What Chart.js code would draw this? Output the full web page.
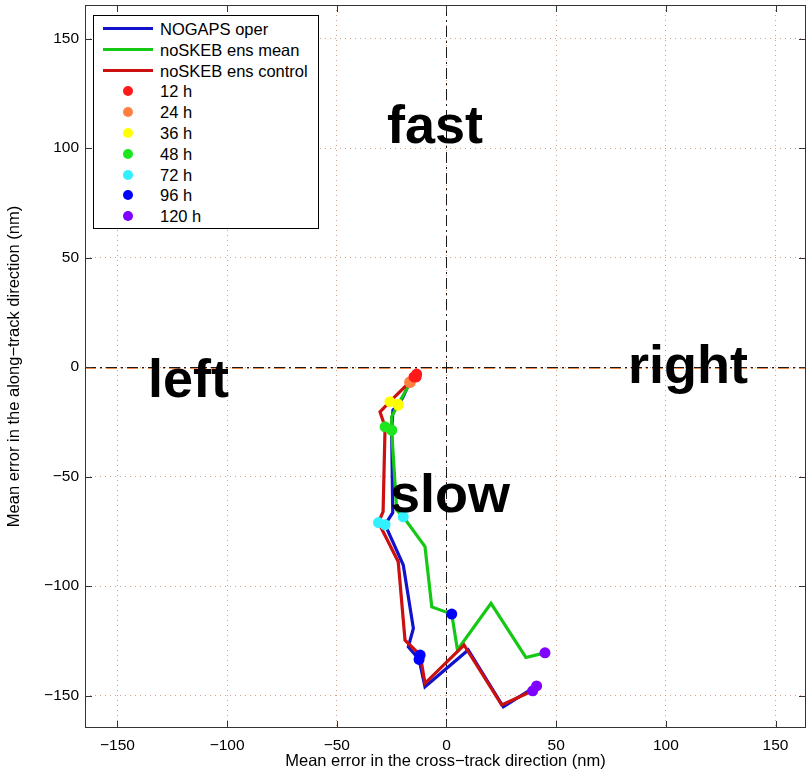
<!DOCTYPE html>
<html>
<head>
<meta charset="utf-8">
<title>Mean track error</title>
<script src="https://cdn.jsdelivr.net/npm/chart.js@4.4.0/dist/chart.umd.min.js"></script>
<style>
  html, body { margin: 0; padding: 0; background: #fff; }
  #wrap { position: relative; width: 807px; height: 772px; }
  #chart { position: absolute; left: 0; top: 0; }
  #legend {
    position: absolute; left: 93px; top: 15px; width: 226px; height: 214px;
    box-sizing: border-box; border: 1px solid #000; background: #fff;
    font-family: "Liberation Sans", Arial, sans-serif; font-size: 16.5px; color: #000;
  }
  .row { position: absolute; left: 0; width: 100%; height: 20px; }
  .sw-line { position: absolute; left: 9px; top: 8px; width: 50px; height: 3px; }
  .sw-dot { position: absolute; left: 29px; top: 5px; width: 10px; height: 10px; border-radius: 50%; }
  .lbl { position: absolute; left: 66px; top: 0; line-height: 20px; white-space: nowrap; }
</style>
</head>
<body>
<div id="wrap">
  <canvas id="chart" width="807" height="772"></canvas>
  <div id="legend"></div>
</div>
<script>
// ---------- data (nm) ----------
// track lines, one vertex every few hours of lead time
const operX = [-14.8, -16.8, -19.8, -22.0, -24.4, -25.0, -24.5, -28.0, -19.7, -15.1, -17.4, -12.5, -9.8, 9.9, 25.9, 41.1];
const operY = [-4.5, -7.0, -13.7, -17.4, -19.6, -28.8, -66.5, -72.0, -90.4, -119.3, -127.7, -133.5, -146.0, -129.2, -155.1, -145.6];

const meanX = [-13.8, -16.5, -22.0, -25.0, -25.0, -22.7, -19.7, -9.8, -6.7, 2.4, 5.0, 20.3, 36.2, 44.9];
const meanY = [-4.5, -7.0, -17.0, -22.7, -28.8, -65.3, -68.4, -82.0, -109.5, -112.8, -129.2, -107.9, -132.6, -130.5];

const ctrlX = [-13.6, -16.6, -25.8, -30.3, -28.0, -28.9, -31.0, -22.0, -18.9, -12.0, -9.8, 8.0, 25.2, 39.3];
const ctrlY = [-3.2, -6.7, -15.8, -20.5, -27.3, -66.0, -71.0, -88.9, -124.7, -131.5, -144.4, -126.9, -154.3, -147.8];

// markers at the lead times below, per series
const leadLabels = ['12 h', '24 h', '36 h', '48 h', '72 h', '96 h', '120 h'];
const leadColors = ['#ff1a1a', '#ff8040', '#ffff00', '#1ee61e', '#33f0ff', '#0000ff', '#8000ff'];

const operMarkX = [-14.8, -16.8, -22.0, -25.0, -28.0, -12.5, 41.1];
const operMarkY = [-4.5, -7.0, -17.4, -28.8, -72.0, -133.5, -145.6];
const meanMarkX = [-13.8, -16.5, -22.0, -25.0, -19.7, 2.4, 44.9];
const meanMarkY = [-4.5, -7.0, -17.0, -28.8, -68.4, -112.8, -130.5];
const ctrlMarkX = [-13.6, -16.6, -25.8, -28.0, -31.0, -12.0, 39.3];
const ctrlMarkY = [-3.2, -6.7, -15.8, -27.3, -71.0, -131.5, -147.8];

const seriesNames = ['NOGAPS oper', 'noSKEB ens mean', 'noSKEB ens control'];
const seriesColors = ['#1212cc', '#14c814', '#cc1010'];

const xTicks = [-150, -100, -50, 0, 50, 100, 150];
const yTicks = [-150, -100, -50, 0, 50, 100, 150];

// quadrant words, anchored at (left, baseline) in data units
const wordTexts = ['fast', 'left', 'right', 'slow'];
const wordX = [-27.1, -136.1, 82.7, -25.8];
const wordY = [102.3, -13.7, -7.3, -66.2];

// ---------- helpers ----------
const FONT = '"Liberation Sans", Arial, sans-serif';
const toPts = (xs, ys) => xs.map((v, i) => ({ x: v, y: ys[i] }));
const fmt = v => String(v).replace('-', '\u2212');

function lineSet(name, color, xs, ys, order) {
  return {
    label: name, data: toPts(xs, ys), showLine: true, borderColor: color,
    backgroundColor: color, borderWidth: 3.2, pointRadius: 0, tension: 0, order: order
  };
}

const datasets = leadLabels.map((lab, i) => ({
  label: lab,
  data: [
    { x: operMarkX[i], y: operMarkY[i] },
    { x: meanMarkX[i], y: meanMarkY[i] },
    { x: ctrlMarkX[i], y: ctrlMarkY[i] }
  ],
  showLine: false, pointRadius: 5.5, pointBorderWidth: 0,
  backgroundColor: leadColors[i], borderColor: leadColors[i], order: 0
}));
datasets.push(lineSet(seriesNames[2], seriesColors[2], ctrlX, ctrlY, 1));
datasets.push(lineSet(seriesNames[1], seriesColors[1], meanX, meanY, 2));
datasets.push(lineSet(seriesNames[0], seriesColors[0], operX, operY, 3));

// zero lines, frame, inward ticks and the quadrant words
const framePlugin = {
  id: 'frame',
  beforeDatasetsDraw(chart) {
    const { ctx, chartArea: a, scales: { x, y } } = chart;
    const x0 = Math.round(x.getPixelForValue(0)) + 0.5;
    const y0 = Math.round(y.getPixelForValue(0)) + 0.5;
    ctx.save();
    ctx.lineWidth = 1;
    ctx.setLineDash([11, 4, 2, 4]);
    ctx.strokeStyle = '#f0894a';
    ctx.beginPath(); ctx.moveTo(a.left, y0 + 1); ctx.lineTo(a.right, y0 + 1); ctx.stroke();
    ctx.strokeStyle = '#1a1a1a';
    ctx.beginPath(); ctx.moveTo(a.left, y0); ctx.lineTo(a.right, y0); ctx.stroke();
    ctx.beginPath(); ctx.moveTo(x0, a.top); ctx.lineTo(x0, a.bottom); ctx.stroke();
    ctx.restore();
  },
  afterDatasetsDraw(chart) {
    const { ctx, scales: { x, y } } = chart;
    ctx.save();
    ctx.fillStyle = '#000';
    ctx.font = 'bold 54px ' + FONT;
    ctx.textAlign = 'left';
    ctx.textBaseline = 'alphabetic';
    wordTexts.forEach((t, i) => {
      ctx.fillText(t, x.getPixelForValue(wordX[i]), y.getPixelForValue(wordY[i]));
    });
    ctx.restore();
  },
  afterDraw(chart) {
    const { ctx, chartArea: a, scales: { x, y } } = chart;
    ctx.save();
    ctx.lineWidth = 1;
    ctx.strokeStyle = '#333';
    ctx.strokeRect(a.left + 0.5, a.top + 0.5, a.right - a.left - 1, a.bottom - a.top - 1);
    ctx.beginPath();
    xTicks.forEach(v => {
      const px = Math.round(x.getPixelForValue(v)) + 0.5;
      ctx.moveTo(px, a.bottom); ctx.lineTo(px, a.bottom - 7);
      ctx.moveTo(px, a.top); ctx.lineTo(px, a.top + 7);
    });
    yTicks.forEach(v => {
      const py = Math.round(y.getPixelForValue(v)) + 0.5;
      ctx.moveTo(a.left, py); ctx.lineTo(a.left + 7, py);
      ctx.moveTo(a.right, py); ctx.lineTo(a.right - 7, py);
    });
    ctx.stroke();
    ctx.restore();
  }
};

const gridOpts = {
  color: 'rgba(205,135,100,0.8)', lineWidth: 1, drawTicks: false
};

function noPad(s) {
  s.paddingTop = 0; s.paddingBottom = 0; s.paddingLeft = 0; s.paddingRight = 0;
}

new Chart(document.getElementById('chart'), {
  type: 'scatter',
  data: { datasets },
  options: {
    responsive: false,
    animation: false,
    layout: { autoPadding: false, padding: { top: 5, right: 1, left: 0, bottom: 0 } },
    plugins: { legend: { display: false }, tooltip: { enabled: false } },
    scales: {
      x: {
        type: 'linear', min: -164.8, max: 163.9,
        afterBuildTicks: s => { s.ticks = xTicks.map(v => ({ value: v })); },
        afterFit: s => { s.height = 44; noPad(s); },
        grid: gridOpts,
        border: { display: false, dash: [1, 4] },
        ticks: { callback: fmt, color: '#000', padding: 8, maxRotation: 0, font: { size: 15.5, family: FONT } },
        title: { display: true, text: 'Mean error in the cross\u2212track direction (nm)', color: '#000',
                 padding: { top: 1, bottom: 1 }, font: { size: 16.5, family: FONT } }
      },
      y: {
        type: 'linear', min: -164.8, max: 165.3,
        afterBuildTicks: s => { s.ticks = yTicks.map(v => ({ value: v })); },
        afterFit: s => { s.width = 85; noPad(s); },
        grid: gridOpts,
        border: { display: false, dash: [1, 4] },
        ticks: { callback: fmt, color: '#000', padding: 6, font: { size: 15.5, family: FONT } },
        title: { display: true, text: 'Mean error in the along\u2212track direction (nm)', color: '#000',
                 padding: { top: 5, bottom: 2 }, font: { size: 16.5, family: FONT } }
      }
    }
  },
  plugins: [framePlugin]
});

// ---------- legend box ----------
const legend = document.getElementById('legend');
const rowTop = i => Math.round(3 + i * 20.8);
seriesNames.forEach((name, i) => {
  const r = document.createElement('div');
  r.className = 'row';
  r.style.top = rowTop(i) + 'px';
  r.innerHTML = '<span class="sw-line" style="background:' + seriesColors[i] + '"></span>' +
                '<span class="lbl">' + name + '</span>';
  legend.appendChild(r);
});
leadLabels.forEach((lab, i) => {
  const r = document.createElement('div');
  r.className = 'row';
  r.style.top = rowTop(i + seriesNames.length) + 'px';
  r.innerHTML = '<span class="sw-dot" style="background:' + leadColors[i] + '"></span>' +
                '<span class="lbl">' + lab + '</span>';
  legend.appendChild(r);
});
</script>
</body>
</html>
